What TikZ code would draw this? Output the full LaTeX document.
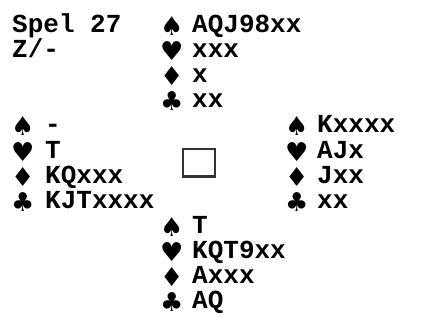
\documentclass[tikz,border=0pt]{standalone}
\usepackage{fontspec}
\newfontfamily\handfont{Liberation Mono}
\newfontfamily\suitfont{DejaVu Sans}
\newlength{\du}
\setlength{\du}{1pt}
\tikzset{
  cards/.style={anchor=base west, inner sep=0pt, font=\handfont\bfseries\fontsize{26}{26}\selectfont},
  suit/.style={anchor=base west, inner sep=0pt, yshift=-3\du, font=\suitfont\fontsize{26}{26}\selectfont},
  tafel/.style={draw=black!80, line width=1.5\du, minimum width=32\du, minimum height=27\du, inner sep=0pt},
}

\begin{document}
\begin{tikzpicture}
\pgftransformxscale{1.000000}
\pgftransformyscale{-1.000000}
\useasboundingbox (0\du,0\du) rectangle (435\du,323\du);
% spel
\node[cards] (spel) at (12\du,32.5\du){Spel 27};
\node[cards] (gever) at (12\du,57.6\du){Z/-};
% noord
\node[suit] (nS) at (160\du,32.5\du){♠};
\node[cards] (nSk) at (192\du,32.5\du){AQJ98xx};
\node[suit] (nH) at (160\du,57.6\du){♥};
\node[cards] (nHk) at (192\du,57.6\du){xxx};
\node[suit] (nR) at (160\du,82.7\du){♦};
\node[cards] (nRk) at (192\du,82.7\du){x};
\node[suit] (nK) at (160\du,107.8\du){♣};
\node[cards] (nKk) at (192\du,107.8\du){xx};
% west
\node[suit] (wS) at (11\du,132.9\du){♠};
\node[cards] (wSk) at (45\du,132.9\du){-};
\node[suit] (wH) at (11\du,158.0\du){♥};
\node[cards] (wHk) at (45\du,158.0\du){T};
\node[suit] (wR) at (11\du,183.1\du){♦};
\node[cards] (wRk) at (45\du,183.1\du){KQxxx};
\node[suit] (wK) at (11\du,208.2\du){♣};
\node[cards] (wKk) at (45\du,208.2\du){KJTxxxx};
% oost
\node[suit] (oS) at (285\du,132.9\du){♠};
\node[cards] (oSk) at (317\du,132.9\du){Kxxxx};
\node[suit] (oH) at (285\du,158.0\du){♥};
\node[cards] (oHk) at (317\du,158.0\du){AJx};
\node[suit] (oR) at (285\du,183.1\du){♦};
\node[cards] (oRk) at (317\du,183.1\du){Jxx};
\node[suit] (oK) at (285\du,208.2\du){♣};
\node[cards] (oKk) at (317\du,208.2\du){xx};
% zuid
\node[suit] (zS) at (160\du,233.3\du){♠};
\node[cards] (zSk) at (192\du,233.3\du){T};
\node[suit] (zH) at (160\du,258.4\du){♥};
\node[cards] (zHk) at (192\du,258.4\du){KQT9xx};
\node[suit] (zR) at (160\du,283.5\du){♦};
\node[cards] (zRk) at (192\du,283.5\du){Axxx};
\node[suit] (zK) at (160\du,308.6\du){♣};
\node[cards] (zKk) at (192\du,308.6\du){AQ};
% tafel
\node[tafel] (tafel) at (199\du,162.5\du){};
\draw[draw=black!80, line width=2.5\du] (tafel.south west) -- (tafel.south east);
\end{tikzpicture}
\end{document}
